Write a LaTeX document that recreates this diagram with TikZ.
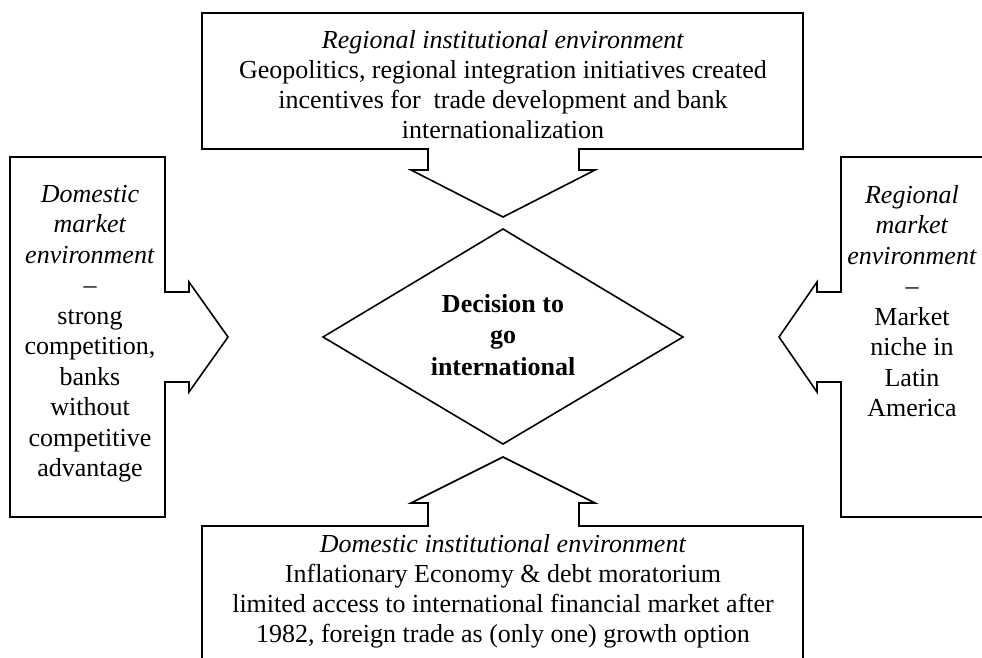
\documentclass[tikz,border=0pt]{standalone}
\usepackage{fontspec}
\setmainfont{Liberation Serif}
\begin{document}
\begin{tikzpicture}[x=1pt,y=-1pt,
  shapeline/.style={draw=black,line width=1.6pt,line join=miter},
  txt/.style={font=\fontsize{26}{30}\selectfont,align=center,inner sep=0pt,anchor=base},
  stxt/.style={font=\fontsize{26}{30.5}\selectfont,align=center,inner sep=0pt,anchor=base},
  dtxt/.style={font=\fontsize{26}{31.5}\selectfont\bfseries,align=center,inner sep=0pt,anchor=base}]
\useasboundingbox (0,0) rectangle (982,657);
\clip (0,0) rectangle (982,657);
% top callout (regional institutional environment)
\draw[shapeline] (202,13) -- (803,13) -- (803,149) -- (579,149) -- (579,170) -- (595,170)
  -- (503,217) -- (411,170) -- (428,170) -- (428,149) -- (202,149) -- cycle;
% bottom callout (domestic institutional environment)
\draw[shapeline] (202,526) -- (428,526) -- (428,503) -- (411,503) -- (503,457) -- (595,503)
  -- (579,503) -- (579,526) -- (803,526) -- (803,690) -- (202,690) -- cycle;
% left callout (domestic market environment)
\draw[shapeline] (10,157) -- (165,157) -- (165,292) -- (189,292) -- (189,282) -- (228,337)
  -- (189,392) -- (189,382) -- (165,382) -- (165,517) -- (10,517) -- cycle;
% right callout (regional market environment)
\draw[shapeline] (996,157) -- (841,157) -- (841,292) -- (817,292) -- (817,282) -- (779,337)
  -- (817,392) -- (817,382) -- (841,382) -- (841,517) -- (996,517) -- cycle;
% decision diamond
\draw[shapeline] (503,229) -- (683,337) -- (503,444) -- (323,337) -- cycle;

% text nodes: anchor=base is the baseline of the last line
\node[txt] (toptext) at (503,138) {\textit{Regional institutional environment}\\
  Geopolitics, regional integration initiatives created\\
  incentives for\ \ trade development and bank\\
  internationalization};
\node[stxt] (lefttext) at (90,476.5) {\textit{Domestic}\\\textit{market}\\\textit{environment}\\
  \textendash\\strong\\competition,\\banks\\without\\competitive\\advantage};
\node[stxt] (righttext) at (912,416.5) {\textit{Regional}\\\textit{market}\\\textit{environment}\\
  \textendash\\Market\\niche in\\Latin\\America};
\node[dtxt] (decision) at (503,375) {Decision to\\go\\international};
\node[txt] (bottomtext) at (503,642) {\textit{Domestic institutional environment}\\
  Inflationary Economy \& debt moratorium\\
  limited access to international financial market after\\
  1982, foreign trade as (only one) growth option};
\end{tikzpicture}
\end{document}
